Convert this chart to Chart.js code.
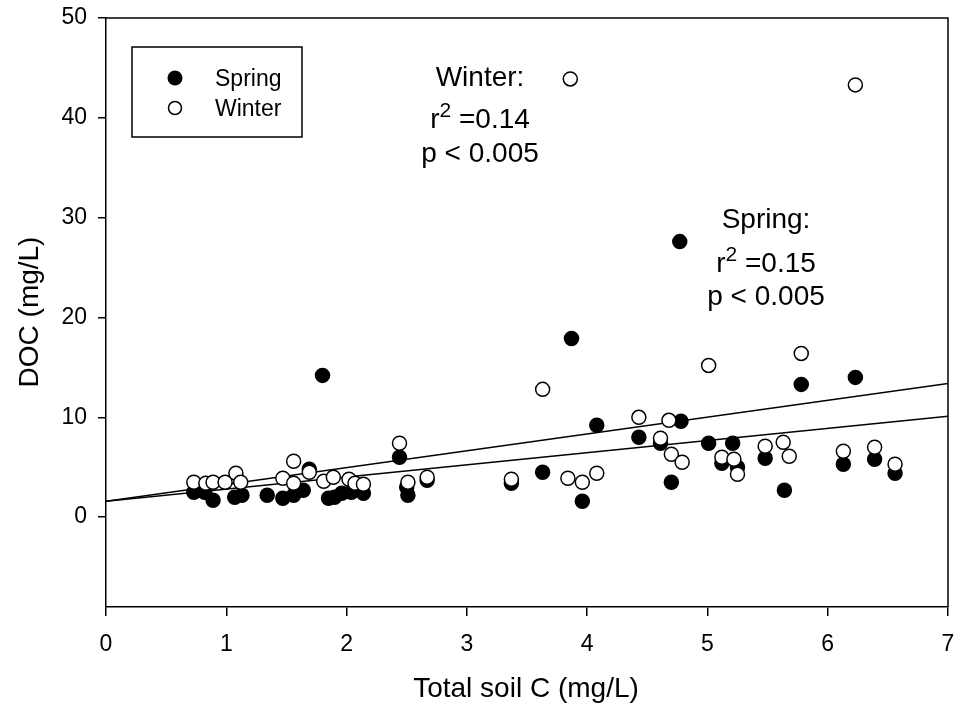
<!DOCTYPE html>
<html><head><meta charset="utf-8">
<script src="https://cdn.jsdelivr.net/npm/chart.js@4.4.1/dist/chart.umd.min.js"></script>
<style>html,body{margin:0;padding:0;background:#fff;}canvas{display:block;}</style>
</head><body>
<canvas id="c" width="958" height="708"></canvas>
<script>
// ---- data ----
const springX = [0.73,0.82,0.89,1.07,1.13,1.34,1.47,1.56,1.64,1.69,1.80,1.85,1.90,1.96,2.04,2.14,2.44,2.50,2.51,2.67,3.37,3.63,3.87,3.96,4.08,4.43,4.61,4.70,4.78,4.77,5.01,5.12,5.21,5.25,5.48,5.64,5.78,6.13,6.23,6.39,6.56];
const springY = [2.5,2.5,1.7,2.0,2.2,2.2,1.9,2.2,2.7,4.8,14.2,1.9,2.0,2.4,2.5,2.4,6.0,3.0,2.2,3.7,3.4,4.5,17.9,1.6,9.2,8.0,7.4,3.5,9.6,27.6,7.4,5.4,7.4,5.0,5.9,2.7,13.3,5.3,14.0,5.8,4.4];
const winterX = [0.73,0.83,0.89,0.99,1.08,1.12,1.47,1.56,1.56,1.69,1.81,1.89,2.02,2.07,2.14,2.44,2.51,2.67,3.37,3.63,3.84,3.86,3.96,4.08,4.43,4.61,4.68,4.70,4.79,5.01,5.12,5.22,5.25,5.48,5.63,5.68,5.78,6.13,6.23,6.39,6.56];
const winterY = [3.5,3.4,3.5,3.5,4.4,3.5,3.9,3.4,5.6,4.5,3.6,4.0,3.8,3.4,3.3,7.4,3.5,4.0,3.8,12.8,3.9,43.9,3.5,4.4,10.0,7.9,9.7,6.3,5.5,15.2,6.0,5.8,4.3,7.1,7.5,6.1,16.4,6.6,43.3,7.0,5.3];
const fitX = [0, 7];
const springFitY = [1.6, 10.1];
const winterFitY = [1.6, 13.4];
const xTicks = [0,1,2,3,4,5,6,7];
const yTicks = [0,10,20,30,40,50];
const seriesNames = ['Spring','Winter'];
const xTitle = 'Total soil C (mg/L)';
const yTitle = 'DOC (mg/L)';
const winterStats = ['Winter:', '0.14', 'p < 0.005'];
const springStats = ['Spring:', '0.15', 'p < 0.005'];

const FONT = '"Liberation Sans", Arial, Helvetica, sans-serif';
const toPts = (xs, ys) => xs.map((x, i) => ({x: x, y: ys[i]}));

const decor = {
  id: 'decor',
  beforeDraw(chart) {
    const ctx = chart.ctx;
    ctx.save();
    ctx.fillStyle = '#fff';
    ctx.fillRect(0, 0, chart.width, chart.height);
    ctx.restore();
  },
  afterDraw(chart) {
    const ctx = chart.ctx;
    const a = chart.chartArea;
    ctx.save();
    ctx.strokeStyle = '#000';
    ctx.lineWidth = 1.5;
    ctx.beginPath();
    ctx.moveTo(a.left, a.top); ctx.lineTo(a.right, a.top); ctx.lineTo(a.right, a.bottom);
    ctx.stroke();

    // axis titles
    ctx.fillStyle = '#000';
    ctx.font = '28px ' + FONT;
    ctx.textAlign = 'center';
    ctx.textBaseline = 'middle';
    ctx.fillText(xTitle, 526, 689);
    ctx.save();
    ctx.translate(30, 312);
    ctx.rotate(-Math.PI / 2);
    ctx.fillText(yTitle, 0, 0);
    ctx.restore();

    // legend
    ctx.lineWidth = 1.5;
    ctx.strokeRect(132, 47, 170, 90);
    ctx.beginPath(); ctx.arc(175, 78, 7.5, 0, Math.PI * 2); ctx.fillStyle = '#000'; ctx.fill();
    ctx.beginPath(); ctx.arc(175, 108, 6.5, 0, Math.PI * 2); ctx.fillStyle = '#fff'; ctx.fill(); ctx.stroke();
    ctx.fillStyle = '#000';
    ctx.font = '23px ' + FONT;
    ctx.textAlign = 'left';
    ctx.textBaseline = 'alphabetic';
    ctx.fillText(seriesNames[0], 215, 86);
    ctx.fillText(seriesNames[1], 215, 116);

    // statistics annotations
    const big = '28px ' + FONT, small = '21px ' + FONT;
    function stats(lines, cx, b1, b2, b3) {
      ctx.font = big; ctx.textAlign = 'center';
      ctx.fillText(lines[0], cx, b1);
      ctx.fillText(lines[2], cx, b3);
      ctx.textAlign = 'left';
      const wr = ctx.measureText('r').width;
      const rest = ' =' + lines[1];
      const wrest = ctx.measureText(rest).width;
      ctx.font = small;
      const w2 = ctx.measureText('2').width;
      const total = wr + w2 + wrest;
      let x = cx - total / 2;
      ctx.font = big; ctx.fillText('r', x, b2); x += wr;
      ctx.font = small; ctx.fillText('2', x, b2 - 11); x += w2;
      ctx.font = big; ctx.fillText(rest, x, b2);
    }
    stats(winterStats, 480, 86, 128, 162);
    stats(springStats, 766, 228, 272, 305);
    ctx.restore();
  }
};

new Chart(document.getElementById('c'), {
  type: 'scatter',
  data: {
    datasets: [
      { label: seriesNames[1], data: toPts(winterX, winterY), order: 1,
        pointRadius: 7, pointBackgroundColor: '#fff', pointBorderColor: '#000', pointBorderWidth: 1.5 },
      { label: seriesNames[0], data: toPts(springX, springY), order: 2,
        pointRadius: 7, pointBackgroundColor: '#000', pointBorderColor: '#000', pointBorderWidth: 1.5 },
      { label: 'Spring fit', data: toPts(fitX, springFitY), order: 3, showLine: true, pointRadius: 0,
        borderColor: '#000', borderWidth: 1.5 },
      { label: 'Winter fit', data: toPts(fitX, winterFitY), order: 3, showLine: true, pointRadius: 0,
        borderColor: '#000', borderWidth: 1.5 }
    ]
  },
  options: {
    responsive: false,
    animation: false,
    devicePixelRatio: 1,
    layout: { padding: { top: 18, right: 10, left: 0, bottom: 0 } },
    plugins: { legend: { display: false }, tooltip: { enabled: false } },
    scales: {
      x: {
        type: 'linear', min: 0, max: 7,
        afterFit: s => { s.height = 101; s.paddingLeft = 0; s.paddingRight = 0; },
        afterBuildTicks: s => { s.ticks = xTicks.map(v => ({ value: v })); },
        grid: { drawOnChartArea: false, drawTicks: true, tickLength: 9, color: '#000', lineWidth: 1.5 },
        border: { display: true, color: '#000', width: 1.5 },
        ticks: { color: '#000', font: { family: FONT, size: 23 }, padding: 15, maxRotation: 0 }
      },
      y: {
        type: 'linear', min: -9, max: 50,
        afterFit: s => { s.width = 106; s.paddingTop = 0; s.paddingBottom = 0; },
        afterBuildTicks: s => { s.ticks = yTicks.map(v => ({ value: v })); },
        grid: { drawOnChartArea: false, drawTicks: true, tickLength: 8, color: '#000', lineWidth: 1.5 },
        border: { display: true, color: '#000', width: 1.5 },
        ticks: { color: '#000', font: { family: FONT, size: 23 }, padding: 11 }
      }
    }
  },
  plugins: [decor]
});
</script>
</body></html>
